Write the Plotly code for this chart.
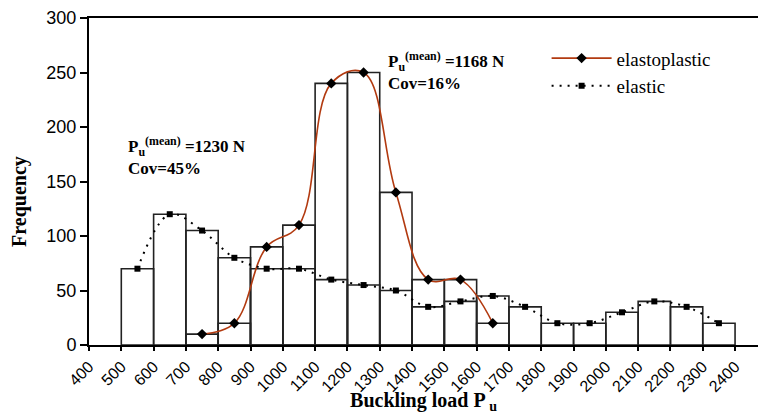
import plotly.graph_objects as go

# Histogram bins (lower edge of each 100 N class) and frequencies
elastic_bin_lo = [500, 600, 700, 800, 900, 1000, 1100, 1200, 1300, 1400,
                  1500, 1600, 1700, 1800, 1900, 2000, 2100, 2200, 2300]
elastic_freq = [70, 120, 105, 80, 70, 70, 60, 55, 50, 35,
                40, 45, 35, 20, 20, 30, 40, 35, 20]

elastoplastic_bin_lo = [700, 800, 900, 1000, 1100, 1200, 1300, 1400, 1500, 1600]
elastoplastic_freq = [10, 20, 90, 110, 240, 250, 140, 60, 60, 20]

bin_width = 100
x_ticks = list(range(400, 2401, 100))
y_ticks = [0, 50, 100, 150, 200, 250, 300]

serif = "Liberation Serif"
sans = "Liberation Sans"

el_mid = [b + bin_width / 2 for b in elastic_bin_lo]
ep_mid = [b + bin_width / 2 for b in elastoplastic_bin_lo]

fig = go.Figure()

bar_style = dict(color="rgba(0,0,0,0)", line=dict(color="#222222", width=1.6))
fig.add_trace(go.Bar(x=el_mid, y=elastic_freq, width=bin_width,
                     marker=bar_style, showlegend=False, hoverinfo="skip"))
fig.add_trace(go.Bar(x=ep_mid, y=elastoplastic_freq, width=bin_width,
                     marker=bar_style, showlegend=False, hoverinfo="skip"))

fig.add_trace(go.Scatter(
    x=ep_mid, y=elastoplastic_freq, name="elastoplastic",
    mode="lines+markers",
    line=dict(color="#B23A10", width=1.6, shape="spline", smoothing=1.1),
    marker=dict(symbol="diamond", size=8, color="black"),
))
fig.add_trace(go.Scatter(
    x=el_mid, y=elastic_freq, name="elastic",
    mode="lines+markers",
    line=dict(color="black", width=2, shape="spline", smoothing=1.0, dash="2px,6px"),
    marker=dict(symbol="square", size=6, color="black"),
))

stat_font = dict(family=serif, size=17, color="black")
fig.add_annotation(x=514, y=173, xref="x", yref="y", xanchor="left", yanchor="middle",
                   align="left", showarrow=False, font=stat_font,
                   text="<b>P<sub>u</sub><sup>(mean)</sup> =1230 N<br>Cov=45%</b>")
fig.add_annotation(x=1318, y=251, xref="x", yref="y", xanchor="left", yanchor="middle",
                   align="left", showarrow=False, font=stat_font,
                   text="<b>P<sub>u</sub><sup>(mean)</sup> =1168 N<br>Cov=16%</b>")

# Vertical axis title
fig.add_annotation(x=-0.105, y=0.44, xref="paper", yref="paper",
                   xanchor="center", yanchor="middle", textangle=-90,
                   showarrow=False, text="<b>Frequency</b>",
                   font=dict(family=serif, size=20, color="black"))

fig.update_layout(
    width=758, height=414,
    margin=dict(l=89, r=0, t=18, b=69),
    paper_bgcolor="white", plot_bgcolor="white",
    barmode="overlay",
    legend=dict(x=0.684, y=0.935, xanchor="left", yanchor="top",
                font=dict(family=serif, size=19, color="black"),
                itemwidth=60, bgcolor="rgba(0,0,0,0)", tracegroupgap=0),
    xaxis=dict(
        range=[400, 2471], tickvals=x_ticks, ticktext=[str(v) for v in x_ticks],
        tickangle=-45, ticks="outside", ticklen=4, tickwidth=1.5, tickcolor="black",
        tickfont=dict(family=sans, size=16, color="black"),
        showline=True, linecolor="black", linewidth=2, mirror=True,
        showgrid=False, zeroline=False,
        title=dict(text="<b>Buckling load P<sub> u</sub></b>", standoff=4,
                   font=dict(family=serif, size=20, color="black")),
    ),
    yaxis=dict(
        range=[0, 300], tickvals=y_ticks,
        ticks="outside", ticklen=7, tickwidth=1.5, tickcolor="black",
        tickfont=dict(family=sans, size=18, color="black"),
        showline=True, linecolor="black", linewidth=2,
        showgrid=False, zeroline=False,
    ),
)

fig.write_html("out.html")
